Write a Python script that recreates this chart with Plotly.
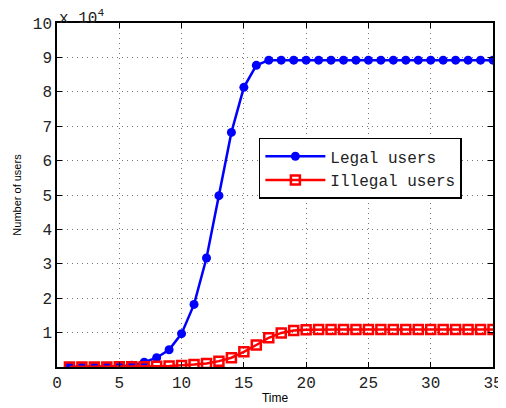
import plotly.graph_objects as go

time = list(range(1, 36))
legal = [0.01, 0.01, 0.01, 0.015, 0.02, 0.05, 0.14, 0.27, 0.50, 0.97, 1.82, 3.17, 4.98, 6.82, 8.13, 8.77, 8.92,
         8.92, 8.92, 8.92, 8.92, 8.92, 8.92, 8.92, 8.92, 8.92, 8.92, 8.92, 8.92, 8.92, 8.92, 8.92, 8.92, 8.92, 8.92]
illegal = [0.0, 0.0, 0.0, 0.0, 0.005, 0.01, 0.01, 0.02, 0.03, 0.04, 0.07, 0.10, 0.17, 0.27, 0.44, 0.64, 0.85,
           0.99, 1.06, 1.08, 1.09, 1.09, 1.09, 1.09, 1.09, 1.09, 1.09, 1.09, 1.09, 1.09, 1.09, 1.09, 1.09, 1.09, 1.09]
ytick_vals = list(range(1, 11))
xtick_vals = list(range(0, 36, 5))

mono = "Liberation Mono, Courier New, monospace"
sans = "Liberation Sans, Arial, sans-serif"

fig = go.Figure()
fig.add_trace(go.Scatter(x=time, y=legal, mode="lines+markers", name="Legal users",
                         line=dict(color="#0000ff", width=2.5),
                         marker=dict(symbol="circle", size=9, color="#0000ff")))
fig.add_trace(go.Scatter(x=time, y=illegal, mode="lines+markers", name="Illegal users",
                         line=dict(color="#ff0000", width=2.5),
                         marker=dict(symbol="square-open", size=9, color="#ff0000", line=dict(width=2.5, color="#ff0000"))))

axis_common = dict(showline=True, linecolor="black", linewidth=1.5, mirror="ticks",
                   ticks="inside", ticklen=5, tickcolor="black", automargin=False,
                   showgrid=True, gridcolor="#777777", griddash="1px,4px", gridwidth=1,
                   zeroline=False, tickfont=dict(family=mono, size=16, color="#222222"))

# page body has an 8px margin, so the figure is sized to fit the 506x408 window
fig.update_layout(
    width=498, height=400,
    margin=dict(l=49, r=13, t=15, b=41),
    plot_bgcolor="white", paper_bgcolor="white",
    showlegend=True,
    legend=dict(x=0.463, y=0.666, xanchor="left", yanchor="top",
                bgcolor="white", bordercolor="black", borderwidth=1.5,
                font=dict(family=mono, size=16, color="#222222"),
                itemwidth=60, tracegroupgap=0),
    xaxis=dict(range=[0, 35], tickvals=xtick_vals,
               title=dict(text="Time", font=dict(family=sans, size=12, color="black"), standoff=2),
               **axis_common),
    yaxis=dict(range=[0, 10], tickvals=ytick_vals,
               title=dict(text="Number of users", font=dict(family=sans, size=11, color="black"), standoff=9),
               **axis_common),
    annotations=[dict(text="x 10<sup>4</sup>", xref="paper", yref="paper", x=0, y=1,
                      xanchor="left", yanchor="bottom", showarrow=False,
                      font=dict(family=mono, size=16, color="#222222"), yshift=-7)],
)

fig.write_html("out.html")
